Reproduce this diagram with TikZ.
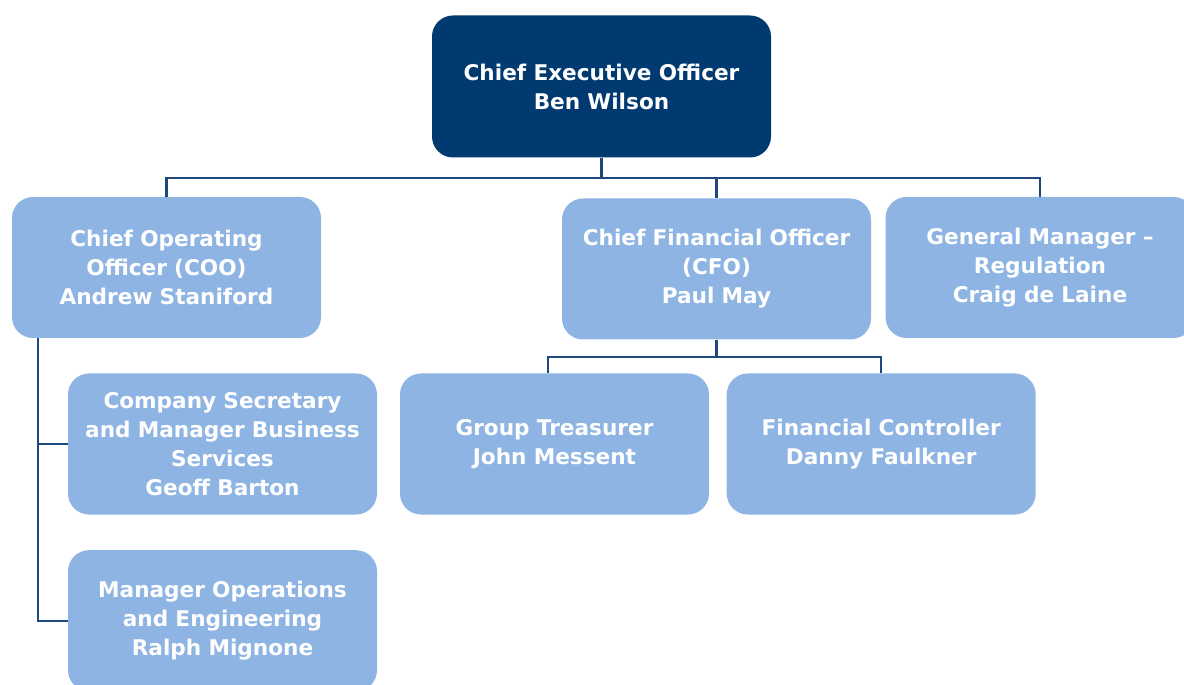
\documentclass[tikz,border=0pt]{standalone}
\usepackage{fontspec}
\setmainfont{DejaVu Sans}
\usetikzlibrary{positioning}
\usepackage{xcolor}
\definecolor{ceoblue}{RGB}{0,58,112}
\definecolor{staffblue}{RGB}{142,180,227}
\definecolor{lineblue}{RGB}{31,73,125}

\begin{document}
\begin{tikzpicture}[node distance=0.7cm,
    block/.style={rectangle, fill=staffblue, text=white, text width=5.9cm, align=center, rounded corners=0.42cm, minimum width=6.18cm, minimum height=2.82cm, font=\bfseries\fontsize{12.3}{16.5}\selectfont},
    topblock/.style={block, fill=ceoblue, minimum width=6.78cm, minimum height=2.84cm, text width=6.4cm},
    link/.style={draw=lineblue, line width=1.2pt}]
    \useasboundingbox (0,0) rectangle (23.68,13.68);
    \node [topblock] (ceo) at (12.03,11.95) {Chief Executive Officer\\Ben Wilson};
    \node [block] (coo) at (3.33,8.33) {Chief Operating\\Officer (COO)\\Andrew Staniford};
    \node [block] (cfo) at (14.33,8.30) {Chief Financial Officer\\(CFO)\\Paul May};
    \node [block] (gm) at (20.8,8.33) {General Manager --\\Regulation\\Craig de Laine};
    \node [block] (secretary) at (4.45,4.80) {Company Secretary\\and Manager Business\\Services\\Geoff Barton};
    \node [block, below=0.7cm of secretary] (operations) {Manager Operations\\and Engineering\\Ralph Mignone};
    \node [block] (treasurer) at (11.09,4.80) {Group Treasurer\\John Messent};
    \node [block, right=0.34cm of treasurer] (controller) {Financial Controller\\Danny Faulkner};
    \draw[link] (ceo.south) -- ++(0,-0.4) coordinate (ceobus);
    \draw[link] (ceobus) -| (coo.north);
    \draw[link] (ceobus) -| (cfo.north);
    \draw[link] (ceobus) -| (gm.north);
    \draw[link] (cfo.south) -- ++(0,-0.34) coordinate (cfobus);
    \draw[link] (cfobus) -| ([xshift=-0.13cm]treasurer.north);
    \draw[link] (cfobus) -| (controller.north);
    \draw[link] ([xshift=0.52cm]coo.south west) |- (secretary.west);
    \draw[link] ([xshift=0.52cm]coo.south west) |- (operations.west);
\end{tikzpicture}
\end{document}
